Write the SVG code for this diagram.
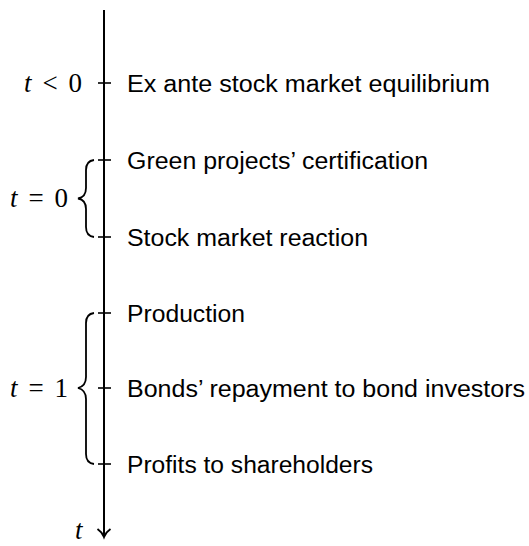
<svg xmlns="http://www.w3.org/2000/svg" width="529" height="546" viewBox="0 0 529 546">
<style>
.ev{font-family:"Liberation Sans","DejaVu Sans",sans-serif;font-size:23px;fill:#000}
.m{font-family:"Liberation Serif","DejaVu Serif",serif;font-size:27px;fill:#000}
.mi{font-style:italic}
.ln{stroke:#000;stroke-width:2;fill:none}
.tk{stroke:#000;stroke-width:1.6}
.br{stroke:#000;stroke-width:1.8;fill:none}
</style>
<g id="connectors">
<line class="ln" x1="104" y1="10" x2="104" y2="536"/>
<path class="ln" d="M97.5 529 Q102 532 104 537 Q106 532 110.5 529" stroke-width="1.6"/>
<line class="tk" x1="98" y1="83" x2="111" y2="83"/>
<line class="tk" x1="98" y1="160" x2="111" y2="160"/>
<line class="tk" x1="98" y1="237" x2="111" y2="237"/>
<line class="tk" x1="98" y1="313" x2="111" y2="313"/>
<line class="tk" x1="98" y1="388" x2="111" y2="388"/>
<line class="tk" x1="98" y1="464" x2="111" y2="464"/>
</g>
<g id="brace0">
<path class="br" d="M94 160 Q86 161 86 170 L86 188 Q86 197 78 198.5 Q86 200 86 209 L86 227 Q86 236 94 237"/>
</g>
<g id="brace1">
<path class="br" d="M94 313 Q86 314 86 323 L86 377 Q86 386 78 388 Q86 390 86 399 L86 454 Q86 463 94 464"/>
</g>
<g id="lbl-tlt0"><text class="m" x="24" y="92" textLength="58" lengthAdjust="spacing"><tspan class="mi">t</tspan> &lt; 0</text></g>
<g id="lbl-t0"><text class="m" x="10" y="207" textLength="58" lengthAdjust="spacing"><tspan class="mi">t</tspan> = 0</text></g>
<g id="lbl-t1"><text class="m" x="10" y="397" textLength="58" lengthAdjust="spacing"><tspan class="mi">t</tspan> = 1</text></g>
<g id="lbl-t"><text class="m mi" x="75" y="539">t</text></g>
<g id="ev1"><text class="ev" x="127" y="92" textLength="363" lengthAdjust="spacingAndGlyphs">Ex ante stock market equilibrium</text></g>
<g id="ev2"><text class="ev" x="127" y="169" textLength="301" lengthAdjust="spacingAndGlyphs">Green projects’ certification</text></g>
<g id="ev3"><text class="ev" x="127" y="246" textLength="241" lengthAdjust="spacingAndGlyphs">Stock market reaction</text></g>
<g id="ev4"><text class="ev" x="127" y="322" textLength="118" lengthAdjust="spacingAndGlyphs">Production</text></g>
<g id="ev5"><text class="ev" x="127" y="397" textLength="398" lengthAdjust="spacingAndGlyphs">Bonds’ repayment to bond investors</text></g>
<g id="ev6"><text class="ev" x="127" y="473" textLength="246" lengthAdjust="spacingAndGlyphs">Profits to shareholders</text></g>
</svg>
